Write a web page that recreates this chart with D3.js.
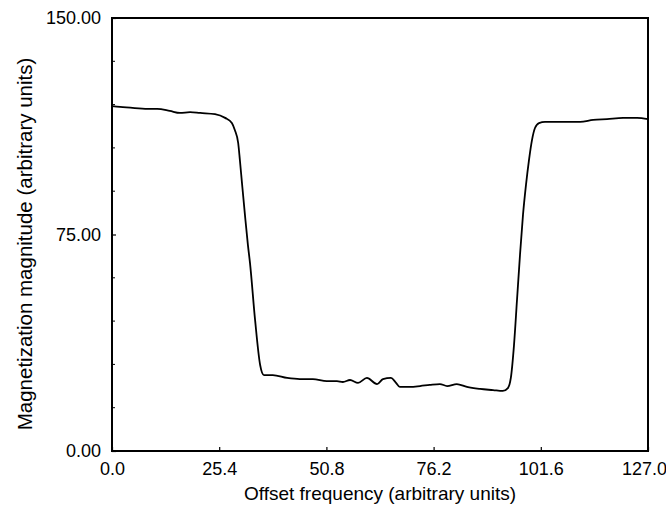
<!DOCTYPE html>
<html>
<head>
<meta charset="utf-8">
<script src="https://cdn.jsdelivr.net/npm/d3@7"></script>
<style>
  html, body { margin: 0; padding: 0; background: #fff; }
  svg { display: block; }
  text { font-family: "Liberation Sans", Arial, Helvetica, sans-serif; fill: #000; }
</style>
</head>
<body>
<svg id="chart" width="666" height="511"></svg>
<script>
// Offset frequency samples (arbitrary units)
const offsetFreq = [
  0.0, 1.9, 5.4, 9.0, 10.7, 13.7, 16.1, 18.5, 20.9, 24.4, 26.8, 28.4, 29.1, 29.9,
  30.3, 30.8, 31.5, 32.2, 32.7, 33.9, 35.1, 36.0, 38.1, 41.5, 44.5, 47.6, 50.9,
  53.3, 54.7, 56.4, 58.3, 60.4, 62.8, 64.2, 66.1, 67.2, 68.2, 70.6, 73.0, 75.3,
  77.7, 79.4, 81.7, 84.1, 87.2, 90.3, 92.6, 93.8, 94.5, 95.25, 95.96, 96.67,
  97.38, 98.09, 98.8, 99.52, 100.22, 101.17, 102.6, 105.4, 107.8, 110.9, 114.0,
  117.3, 121.1, 124.4, 127.0
];
// Magnetization magnitude at each offset (arbitrary units)
const magnitude = [
  119.5, 119.2, 118.8, 118.5, 118.5, 117.8, 117.1, 117.4, 117.1, 116.7, 115.4,
  113.6, 111.2, 106.7, 100.8, 92.8, 81.8, 71.4, 65.1, 45.4, 29.8, 26.3, 26.3,
  25.3, 24.9, 24.9, 24.2, 24.2, 23.9, 24.6, 23.6, 25.3, 23.2, 24.9, 25.3, 23.8,
  22.2, 22.2, 22.5, 22.9, 23.2, 22.5, 23.2, 22.2, 21.5, 21.1, 20.8, 21.8, 25.3,
  36.7, 52.3, 67.9, 81.8, 92.2, 100.8, 107.8, 111.9, 113.6, 114.0, 114.0, 114.0,
  114.0, 114.7, 115.0, 115.4, 115.4, 115.0
];
const xTickValues = [0, 25.4, 50.8, 76.2, 101.6, 127.0];
const yTickValues = [0, 75, 150];
const yMinorTicks = [15, 30, 45, 60, 90, 105, 120, 135];
const xTitle = "Offset frequency (arbitrary units)";
const yTitle = "Magnetization magnitude (arbitrary units)";

const svg = d3.select("#chart");
const margin = { left: 112, right: 18, top: 18, bottom: 60 };
const W = 666, H = 511;
const font = "'Liberation Sans', Arial, sans-serif";

const x = d3.scaleLinear().domain([0, 127]).range([margin.left, W - margin.right]);
const y = d3.scaleLinear().domain([0, 150]).range([H - margin.bottom, margin.top]);

// Bottom axis: labels below, short ticks pointing into the plot
const xAxis = d3.axisBottom(x).tickValues(xTickValues).tickFormat(d3.format(".1f"))
  .tickSizeInner(-4).tickSizeOuter(0).tickPadding(11);
const gx = svg.append("g").attr("transform", `translate(0,${y(0)})`).call(xAxis);
gx.select(".domain").remove();
gx.selectAll("line").attr("stroke", "#000").attr("stroke-width", 1.2);
gx.selectAll("text").attr("font-size", 18).attr("fill", "#000").attr("font-family", font)
  .attr("dx", (d, i) => i === xTickValues.length - 1 ? -4 : 0);

// Left axis
const yAxis = d3.axisLeft(y).tickValues(yTickValues).tickFormat(d3.format(".2f"))
  .tickSizeInner(-4).tickSizeOuter(0).tickPadding(11);
const gy = svg.append("g").attr("transform", `translate(${x(0)},0)`).call(yAxis);
gy.select(".domain").remove();
gy.selectAll("line").attr("stroke", "#000").attr("stroke-width", 1.2);
gy.selectAll("text").attr("font-size", 18).attr("fill", "#000").attr("font-family", font);

// Minor ticks on the left axis
svg.append("g").selectAll("line").data(yMinorTicks).join("line")
  .attr("x1", x(0)).attr("x2", x(0) + 3)
  .attr("y1", d => y(d)).attr("y2", d => y(d))
  .attr("stroke", "#000").attr("stroke-width", 1);

// Plot frame
svg.append("rect")
  .attr("x", x(0)).attr("y", y(150))
  .attr("width", x(127) - x(0)).attr("height", y(0) - y(150))
  .attr("fill", "none").attr("stroke", "#000").attr("stroke-width", 2);

// Magnetization profile
const pts = offsetFreq.map((f, i) => [f, magnitude[i]]);
svg.append("path")
  .datum(pts)
  .attr("fill", "none")
  .attr("stroke", "#000")
  .attr("stroke-width", 1.8)
  .attr("stroke-linejoin", "round")
  .attr("d", d3.line().x(d => x(d[0])).y(d => y(d[1])).curve(d3.curveMonotoneX));

// Axis titles
svg.append("text")
  .attr("x", 380).attr("y", 500)
  .attr("text-anchor", "middle").attr("font-size", 19)
  .text(xTitle);

svg.append("text")
  .attr("transform", `translate(32,244) rotate(-90)`)
  .attr("text-anchor", "middle").attr("font-size", 20.5)
  .text(yTitle);
</script>
</body>
</html>
